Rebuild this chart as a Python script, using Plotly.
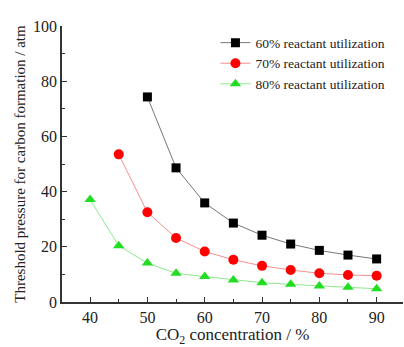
import plotly.graph_objects as go

x60 = [50, 55, 60, 65, 70, 75, 80, 85, 90]
y60 = [74.3, 48.6, 35.9, 28.6, 24.2, 21.0, 18.7, 17.0, 15.6]
x70 = [45, 50, 55, 60, 65, 70, 75, 80, 85, 90]
y70 = [53.5, 32.5, 23.2, 18.3, 15.3, 13.1, 11.6, 10.4, 9.8, 9.5]
x80 = [40, 45, 50, 55, 60, 65, 70, 75, 80, 85, 90]
y80 = [37.1, 20.4, 14.1, 10.4, 9.2, 8.0, 7.0, 6.4, 5.8, 5.3, 4.8]
names = ["60% reactant utilization", "70% reactant utilization", "80% reactant utilization"]

FONT = "Liberation Serif"
fig = go.Figure()
fig.add_trace(go.Scatter(x=x60, y=y60, name=names[0], mode="lines+markers",
                         line=dict(color="#777777", width=1),
                         marker=dict(symbol="square", size=9, color="black")))
fig.add_trace(go.Scatter(x=x70, y=y70, name=names[1], mode="lines+markers",
                         line=dict(color="#f39090", width=1),
                         marker=dict(symbol="circle", size=10, color="#ff0000")))
fig.add_trace(go.Scatter(x=x80, y=y80, name=names[2], mode="lines+markers",
                         line=dict(color="#90e890", width=1),
                         marker=dict(symbol="triangle-up", size=10, color="#22dd22")))

fig.update_layout(
    width=404, height=347,
    margin=dict(l=62, r=1, t=26, b=45, autoexpand=False),
    paper_bgcolor="white", plot_bgcolor="white",
    font=dict(family=FONT, color="#222222"),
    legend=dict(x=0.45, y=0.995, xanchor="left", yanchor="top",
                font=dict(size=13.5, family=FONT), bgcolor="rgba(0,0,0,0)",
                tracegroupgap=0, itemwidth=30),
    showlegend=True,
)
fig.update_xaxes(range=[35.1, 94.6], tickvals=[40, 50, 60, 70, 80, 90],
                 ticks="inside", ticklen=5, tickcolor="#333", automargin=False,
                 minor=dict(dtick=5, tick0=0, ticks="inside", ticklen=3, tickcolor="#333"),
                 showline=True, linecolor="#333", linewidth=1.5, showgrid=False, zeroline=False,
                 tickfont=dict(size=16, family=FONT),
                 title=dict(text="CO<sub>2</sub> concentration / %", font=dict(size=17, family=FONT), standoff=0))
fig.update_yaxes(range=[0, 100], tickvals=[0, 20, 40, 60, 80, 100],
                 ticks="inside", ticklen=5, tickcolor="#333", automargin=False,
                 minor=dict(dtick=10, tick0=0, ticks="inside", ticklen=3, tickcolor="#333"),
                 showline=True, linecolor="#333", linewidth=1.5, showgrid=False, zeroline=False,
                 tickfont=dict(size=16, family=FONT),
                 title=dict(text="Threshold pressure for carbon formation / atm", font=dict(size=15, family=FONT), standoff=4))

fig.write_html("out.html", config={"displayModeBar": False},
               post_script="document.body.style.margin='0';document.body.style.overflow='hidden';")
